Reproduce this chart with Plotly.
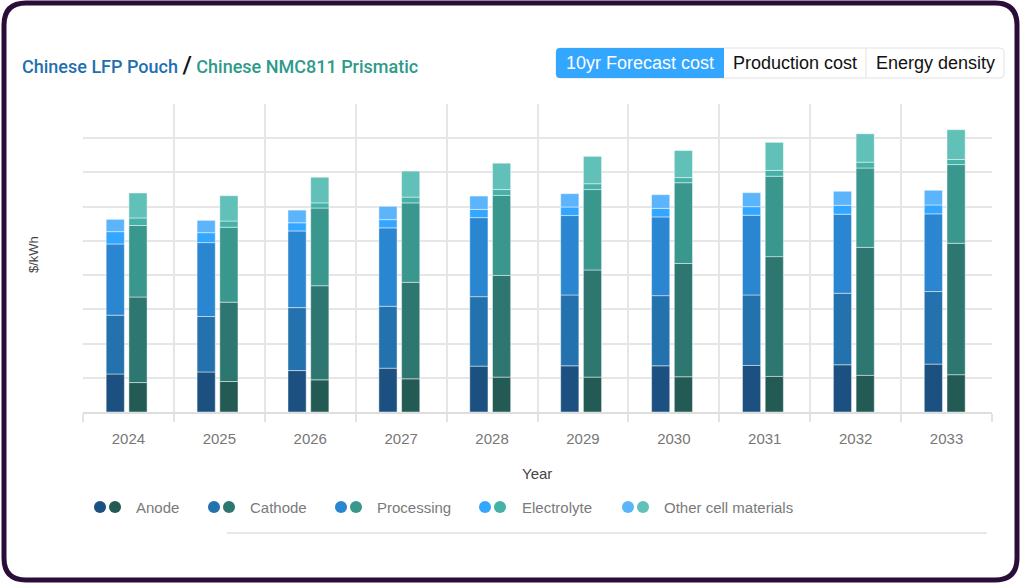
import plotly.graph_objects as go
import numpy as np

years = ["2024", "2025", "2026", "2027", "2028", "2029", "2030", "2031", "2032", "2033"]
components = ["Anode", "Cathode", "Processing", "Electrolyte", "Other cell materials"]

# LFP Pouch ($/kWh) per component
lfp_anode = [11.1, 11.7, 12.1, 12.8, 13.4, 13.5, 13.5, 13.6, 13.8, 14.0]
lfp_cathode = [17.2, 16.2, 18.4, 18.1, 20.3, 20.7, 20.5, 20.6, 20.9, 21.2]
lfp_processing = [20.8, 21.6, 22.4, 22.9, 23.1, 23.2, 23.0, 23.3, 23.1, 22.7]
lfp_electrolyte = [3.6, 2.9, 2.4, 2.4, 2.4, 2.5, 2.5, 2.5, 2.6, 2.6]
lfp_other = [3.6, 3.6, 3.7, 3.9, 3.9, 3.9, 4.0, 4.1, 4.1, 4.3]

# NMC811 Prismatic ($/kWh) per component
nmc_anode = [8.6, 8.9, 9.4, 9.7, 10.2, 10.2, 10.3, 10.4, 10.7, 10.9]
nmc_cathode = [25.0, 23.2, 27.5, 28.2, 29.7, 31.3, 33.1, 35.0, 37.4, 38.4]
nmc_processing = [20.9, 21.9, 22.7, 23.2, 23.4, 23.5, 23.6, 23.5, 23.2, 23.0]
nmc_electrolyte = [2.2, 1.8, 1.5, 1.7, 1.7, 1.7, 1.5, 1.7, 1.7, 1.5]
nmc_other = [7.3, 7.4, 7.5, 7.6, 7.7, 8.0, 7.9, 8.2, 8.3, 8.7]

lfp_series = [lfp_anode, lfp_cathode, lfp_processing, lfp_electrolyte, lfp_other]
nmc_series = [nmc_anode, nmc_cathode, nmc_processing, nmc_electrolyte, nmc_other]

lfp_colors = ["#1b5080", "#2371ad", "#2a86d0", "#33a6ff", "#5cb4fb"]
nmc_colors = ["#235a54", "#2e7770", "#3a978e", "#45b1a7", "#61c0b7"]

W, H = 1021, 583
ML, MR, MT, MB = 83, 29, 104, 171
PW, PH = W - ML - MR, H - MT - MB


def px(x):
    return (x - ML) / PW


def py(y):
    return 1 - (y - MT) / PH


fig = go.Figure()


def add_stack(series, colors, offset, group):
    base = np.zeros(len(years))
    for name, vals, col in zip(components, series, colors):
        vals = np.array(vals)
        fig.add_trace(go.Bar(
            x=years, y=vals, base=base.copy(), name=f"{group} {name}",
            width=0.2, offset=offset,
            marker=dict(color=col, line=dict(color="rgba(255,255,255,0.45)", width=1)),
            showlegend=False,
            hovertemplate=f"{group} {name}: %{{y:.1f}} $/kWh<extra></extra>",
        ))
        base = base + vals


add_stack(lfp_series, lfp_colors, -0.245, "LFP")
add_stack(nmc_series, nmc_colors, 0.005, "NMC811")

shapes = []
annotations = []


def rrect_path(x0, y0, x1, y1, r):
    X0, X1 = px(x0), px(x1)
    Y0, Y1 = py(y0), py(y1)
    rx = r / PW
    ry = r / PH
    return (f"M {X0+rx},{Y0} L {X1-rx},{Y0} Q {X1},{Y0} {X1},{Y0-ry} "
            f"L {X1},{Y1+ry} Q {X1},{Y1} {X1-rx},{Y1} L {X0+rx},{Y1} "
            f"Q {X0},{Y1} {X0},{Y1+ry} L {X0},{Y0-ry} Q {X0},{Y0} {X0+rx},{Y0} Z")


# outer rounded frame
shapes.append(dict(type="path", xref="paper", yref="paper",
                   path=rrect_path(4, 3, 1017, 580, 22),
                   line=dict(color="#2b0d3a", width=5), layer="above"))

# button group
bx0, bx1, by0, by1 = 556, 1004, 48, 78
shapes.append(dict(type="path", xref="paper", yref="paper",
                   path=rrect_path(bx0, by0, bx1, by1, 4),
                   fillcolor="white", line=dict(color="#e2e2e2", width=1), layer="below"))
X0, X1, Y0, Y1 = px(bx0), px(724), py(by0), py(by1)
rx, ry = 4 / PW, 4 / PH
shapes.append(dict(type="path", xref="paper", yref="paper",
                   path=(f"M {X0+rx},{Y0} L {X1},{Y0} L {X1},{Y1} L {X0+rx},{Y1} "
                         f"Q {X0},{Y1} {X0},{Y1+ry} L {X0},{Y0-ry} Q {X0},{Y0} {X0+rx},{Y0} Z"),
                   fillcolor="#33a6ff", line=dict(width=0), layer="above"))
shapes.append(dict(type="line", xref="paper", yref="paper", x0=px(866), x1=px(866),
                   y0=py(by0), y1=py(by1), line=dict(color="#e2e2e2", width=1)))

btn_font = dict(family="Liberation Sans, Arial, sans-serif", size=18)
for label, cx, col in [("10yr Forecast cost", 640, "white"),
                       ("Production cost", 795, "#111111"),
                       ("Energy density", 935, "#111111")]:
    annotations.append(dict(x=px(cx), y=py(63), xref="paper", yref="paper", text=label,
                            showarrow=False, xanchor="center", yanchor="middle",
                            font=dict(color=col, **btn_font)))

# title
annotations.append(dict(
    x=px(20), y=py(65), xref="paper", yref="paper", xanchor="left", yanchor="middle",
    showarrow=False,
    text=("<span style='color:#1f6fb0'>Chinese LFP Pouch</span> "
          "<span style='color:#111111;font-size:24px'>/</span> "
          "<span style='color:#2e9a8a'>Chinese NMC811 Prismatic</span>"),
    font=dict(family="Roboto, sans-serif", size=18, weight=500)))

# axis titles
annotations.append(dict(x=px(33), y=py(255), xref="paper", yref="paper", text="$/kWh",
                        textangle=-90, showarrow=False, xanchor="center", yanchor="middle",
                        font=dict(family="Liberation Sans, Arial, sans-serif", size=13, color="#444444")))
annotations.append(dict(x=px(537), y=py(473), xref="paper", yref="paper", text="Year",
                        showarrow=False, xanchor="center", yanchor="middle",
                        font=dict(family="Liberation Sans, Arial, sans-serif", size=15, color="#444444")))

# legend (custom)
leg_items = [(100, 134), (214, 248), (341, 375), (485, 520), (628, 662)]
for (dx, tx), name, c1, c2 in zip(leg_items, components, lfp_colors, nmc_colors):
    for cx, c in [(dx, c1), (dx + 15, c2)]:
        shapes.append(dict(type="circle", xref="paper", yref="paper",
                           x0=px(cx - 6), x1=px(cx + 6), y0=py(501), y1=py(513),
                           fillcolor=c, line=dict(width=0)))
    annotations.append(dict(x=px(tx), y=py(507), xref="paper", yref="paper", text=name,
                            showarrow=False, xanchor="left", yanchor="middle",
                            font=dict(family="Liberation Sans, Arial, sans-serif", size=15, color="#7a7a7a")))

# separator line under legend
shapes.append(dict(type="line", xref="paper", yref="paper", x0=px(227), x1=px(987),
                   y0=py(533), y1=py(533), line=dict(color="#e8e8e8", width=2)))

fig.update_layout(
    width=W, height=H,
    margin=dict(l=ML, r=MR, t=MT, b=MB),
    paper_bgcolor="white", plot_bgcolor="white",
    barmode="overlay",
    showlegend=False,
    shapes=shapes, annotations=annotations,
    xaxis=dict(type="category", categoryorder="array", categoryarray=years,
               tickson="boundaries", ticks="outside", ticklen=8, tickcolor="#e3e3e3", tickwidth=2,
               showgrid=True, gridcolor="#e6e6e6", gridwidth=2,
               showline=True, linecolor="#dedede", linewidth=2,
               ticklabelstandoff=12,
               tickfont=dict(family="Liberation Sans, Arial, sans-serif", size=15, color="#777777"),
               range=[-0.5, 9.5]),
    yaxis=dict(range=[0, 90], dtick=10, showticklabels=False, showgrid=True,
               gridcolor="#e6e6e6", gridwidth=2, zeroline=False, ticks=""),
)

fig.write_html("out.html", config={"displayModeBar": False},
               post_script="document.body.style.margin='0';document.body.style.overflow='hidden';")
